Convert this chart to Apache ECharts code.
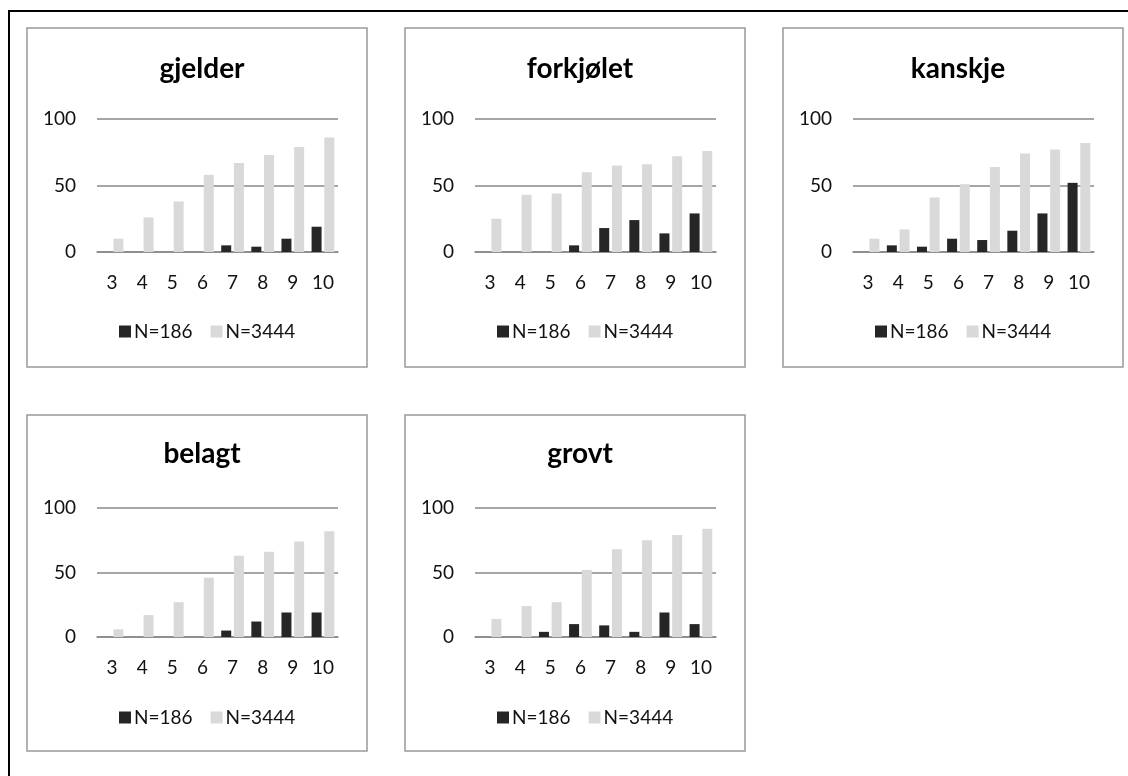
<!DOCTYPE html>
<html>
<head>
<meta charset="utf-8">
<script src="https://cdn.jsdelivr.net/npm/echarts@6/dist/echarts.min.js"></script>
<style>
  html, body { margin: 0; padding: 0; background: #fff; }
  #chart { width: 1128px; height: 776px; }
</style>
</head>
<body>
<div id="chart"></div>
<script>
// Share of answers per score, two groups, for five words
const categories = ['3', '4', '5', '6', '7', '8', '9', '10'];
const seriesNames = ['N=186', 'N=3444'];
const panelTitles = ['gjelder', 'forkjølet', 'kanskje', 'belagt', 'grovt'];

const gjelderN186 = [0, 0, 0, 0, 5, 4, 10, 19];
const gjelderN3444 = [10, 26, 38, 58, 67, 73, 79, 86];
const forkjoletN186 = [0, 0, 0, 5, 18, 24, 14, 29];
const forkjoletN3444 = [25, 43, 44, 60, 65, 66, 72, 76];
const kanskjeN186 = [0, 5, 4, 10, 9, 16, 29, 52];
const kanskjeN3444 = [10, 17, 41, 51, 64, 74, 77, 82];
const belagtN186 = [0, 0, 0, 0, 5, 12, 19, 19];
const belagtN3444 = [6, 17, 27, 46, 63, 66, 74, 82];
const grovtN186 = [0, 0, 4, 10, 9, 4, 19, 10];
const grovtN3444 = [14, 24, 27, 52, 68, 75, 79, 84];

const yTicks = [0, 50, 100];

const panelData = [
  [gjelderN186, gjelderN3444],
  [forkjoletN186, forkjoletN3444],
  [kanskjeN186, kanskjeN3444],
  [belagtN186, belagtN3444],
  [grovtN186, grovtN3444]
];

// Layout of the five framed panels (left, top, width, height) and plot-area offsets
const FONT = 'Lato, "Open Sans", sans-serif';
const panels = [
  { x: 27, y: 28, w: 340, h: 339, gridTop: 91, gridH: 133, labelTop: 40, legendTop: 289 },
  { x: 405, y: 28, w: 340, h: 339, gridTop: 91, gridH: 133, labelTop: 40, legendTop: 289 },
  { x: 783, y: 28, w: 340, h: 339, gridTop: 91, gridH: 133, labelTop: 40, legendTop: 289 },
  { x: 27, y: 415, w: 340, h: 336, gridTop: 93, gridH: 129, labelTop: 38, legendTop: 288 },
  { x: 405, y: 415, w: 340, h: 336, gridTop: 93, gridH: 129, labelTop: 38, legendTop: 288 }
];

const colors = ['#262626', '#d9d9d9'];

const option = {
  animation: false,
  backgroundColor: '#fff',
  textStyle: { fontFamily: FONT },
  title: [],
  legend: [],
  grid: [],
  xAxis: [],
  yAxis: [],
  series: [],
  graphic: []
};

// Outer black frame (runs off the right and bottom edges)
option.graphic.push({
  type: 'rect',
  shape: { x: 9, y: 11, width: 1140, height: 790 },
  style: { fill: 'none', stroke: '#000', lineWidth: 2 },
  silent: true
});

panels.forEach((p, i) => {
  option.graphic.push({
    type: 'rect',
    shape: { x: p.x, y: p.y, width: p.w, height: p.h },
    style: { fill: 'none', stroke: '#999', lineWidth: 1.5 },
    silent: true
  });

  option.title.push({
    text: panelTitles[i],
    left: p.x + p.w / 2,
    top: p.y + p.labelTop - 18,
    textAlign: 'center',
    textStyle: { fontFamily: FONT, fontSize: 28, fontWeight: 'bold', color: '#000' }
  });

  option.legend.push({
    data: seriesNames,
    left: p.x + 87,
    top: p.y + p.legendTop,
    itemWidth: 12,
    itemHeight: 12,
    itemGap: 18,
    icon: 'rect',
    selectedMode: false,
    textStyle: { fontFamily: FONT, fontSize: 19, color: '#111', padding: [0, 0, 0, -2] }
  });

  option.grid.push({
    left: p.x + 70,
    top: p.y + p.gridTop,
    width: 241,
    height: p.gridH,
    containLabel: false
  });

  option.xAxis.push({
    type: 'category',
    gridIndex: i,
    data: categories,
    axisLine: { show: true, lineStyle: { color: '#888', width: 1.5 } },
    axisTick: { show: false },
    axisLabel: { fontFamily: FONT, fontSize: 19, color: '#111', margin: 21 }
  });

  option.yAxis.push({
    type: 'value',
    gridIndex: i,
    min: yTicks[0],
    max: yTicks[yTicks.length - 1],
    interval: yTicks[1] - yTicks[0],
    axisLine: { show: false },
    axisTick: { show: false },
    splitLine: { show: true, lineStyle: { color: '#888', width: 1.5 } },
    axisLabel: { fontFamily: FONT, fontSize: 19, color: '#111', margin: 21 }
  });

  panelData[i].forEach((values, s) => {
    option.series.push({
      type: 'bar',
      name: seriesNames[s],
      xAxisIndex: i,
      yAxisIndex: i,
      data: values,
      barWidth: 10,
      barGap: '27%',
      itemStyle: { color: colors[s] },
      emphasis: { disabled: true }
    });
  });
});

const chart = echarts.init(document.getElementById('chart'), null, { renderer: 'canvas' });
chart.setOption(option);
</script>
</body>
</html>
